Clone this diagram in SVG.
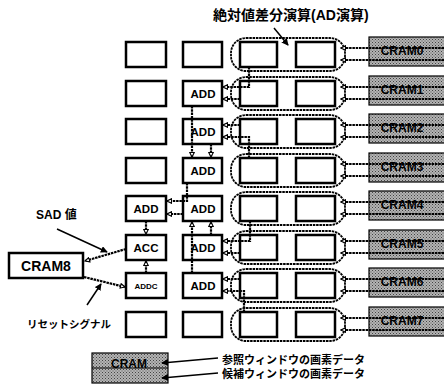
<svg xmlns="http://www.w3.org/2000/svg" width="444" height="387" viewBox="0 0 444 387">
<style>
.bx{fill:#fff;stroke:#000;stroke-width:2.5}
.cr{fill:url(#stip);stroke:#000;stroke-width:1.2}
.pill{fill:none;stroke:#000;stroke-width:1.8;stroke-dasharray:2.5 0.8}
.dl{fill:none;stroke:#000;stroke-width:2.2;stroke-dasharray:2.5 0.8;marker-end:url(#ah)}
.ptr{fill:none;stroke:#000;stroke-width:1.5;marker-end:url(#ahf)}
.t{font-family:"Liberation Sans","Noto Sans CJK JP",sans-serif;font-weight:bold;fill:#000;text-anchor:middle}
.j{font-family:"Liberation Sans","Noto Sans CJK JP",sans-serif;font-weight:bold;fill:#000}
</style>
<defs>
<pattern id="stip" width="3" height="3" patternUnits="userSpaceOnUse"><rect width="3" height="3" fill="#b4b4b4"/><rect width="1" height="1" fill="#444"/><rect x="1.5" y="1.5" width="1" height="1" fill="#555"/></pattern>
<marker id="ah" viewBox="0 0 8 8" refX="7" refY="4" markerWidth="6" markerHeight="6" markerUnits="userSpaceOnUse" orient="auto"><path d="M1,1 L7,4 L1,7 z" fill="#fff" stroke="#000" stroke-width="1.5"/></marker>
<marker id="ahf" viewBox="0 0 8 8" refX="7" refY="4" markerWidth="7" markerHeight="7" markerUnits="userSpaceOnUse" orient="auto"><path d="M0,0 L8,4 L0,8 z" fill="#000"/></marker>
</defs>
<rect width="444" height="387" fill="#fff"/>

<text class="j" x="213" y="20" font-size="14">絶対値差分演算(AD演算)</text>
<text class="j" x="36" y="219" font-size="12">SAD 値</text>
<text class="j" x="27" y="328" font-size="10.5">リセットシグナル</text>
<text class="j" x="222" y="364" font-size="11">参照ウィンドウの画素データ</text>
<text class="j" x="222" y="378" font-size="11">候補ウィンドウの画素データ</text>

<g id="pills">
<rect class="pill" x="231" y="38" width="114" height="33" rx="15"/>
<rect class="pill" x="231" y="77" width="114" height="33" rx="15"/>
<rect class="pill" x="231" y="115" width="114" height="33" rx="15"/>
<rect class="pill" x="231" y="154" width="114" height="33" rx="15"/>
<rect class="pill" x="231" y="192" width="114" height="33" rx="15"/>
<rect class="pill" x="231" y="231" width="114" height="33" rx="15"/>
<rect class="pill" x="231" y="269" width="114" height="33" rx="15"/>
<rect class="pill" x="231" y="308" width="114" height="33" rx="15"/>
</g>

<g id="colA">
<g id="a0"><rect class="bx" x="126" y="42" width="40" height="25"/></g>
<g id="a1"><rect class="bx" x="126" y="81" width="40" height="25"/></g>
<g id="a2"><rect class="bx" x="126" y="119" width="40" height="25"/></g>
<g id="a3"><rect class="bx" x="126" y="158" width="40" height="25"/></g>
<g id="a4"><rect class="bx" x="126" y="196" width="40" height="25"/><text class="t" x="146" y="213" font-size="11.5">ADD</text></g>
<g id="acc"><rect class="bx" x="126" y="235" width="40" height="25"/><text class="t" x="146" y="252" font-size="11.5">ACC</text></g>
<g id="addc"><rect class="bx" x="126" y="273" width="40" height="25"/><text class="t" x="146" y="289" font-size="8">ADDC</text></g>
<g id="a7"><rect class="bx" x="126" y="312" width="40" height="25"/></g>
</g>

<g id="colB">
<g id="b0"><rect class="bx" x="183" y="42" width="39" height="25"/></g>
<g id="b1"><rect class="bx" x="183" y="81" width="39" height="25"/><text class="t" x="203" y="98" font-size="11.5">ADD</text></g>
<g id="b2"><rect class="bx" x="183" y="119" width="39" height="25"/><text class="t" x="203" y="136" font-size="11.5">ADD</text></g>
<g id="b3"><rect class="bx" x="183" y="158" width="39" height="25"/><text class="t" x="203" y="175" font-size="11.5">ADD</text></g>
<g id="b4"><rect class="bx" x="183" y="196" width="39" height="25"/><text class="t" x="203" y="213" font-size="11.5">ADD</text></g>
<g id="b5"><rect class="bx" x="183" y="235" width="39" height="25"/><text class="t" x="203" y="252" font-size="11.5">ADD</text></g>
<g id="b6"><rect class="bx" x="183" y="273" width="39" height="25"/><text class="t" x="203" y="290" font-size="11.5">ADD</text></g>
<g id="b7"><rect class="bx" x="183" y="312" width="39" height="25"/></g>
</g>

<g id="colC">
<g id="c0"><rect class="bx" x="240" y="42" width="37" height="25"/></g>
<g id="c1"><rect class="bx" x="240" y="81" width="37" height="25"/></g>
<g id="c2"><rect class="bx" x="240" y="119" width="37" height="25"/></g>
<g id="c3"><rect class="bx" x="240" y="158" width="37" height="25"/></g>
<g id="c4"><rect class="bx" x="240" y="196" width="37" height="25"/></g>
<g id="c5"><rect class="bx" x="240" y="235" width="37" height="25"/></g>
<g id="c6"><rect class="bx" x="240" y="273" width="37" height="25"/></g>
<g id="c7"><rect class="bx" x="240" y="312" width="37" height="25"/></g>
</g>

<g id="colD">
<g id="d0"><rect class="bx" x="296" y="42" width="39" height="25"/></g>
<g id="d1"><rect class="bx" x="296" y="81" width="39" height="25"/></g>
<g id="d2"><rect class="bx" x="296" y="119" width="39" height="25"/></g>
<g id="d3"><rect class="bx" x="296" y="158" width="39" height="25"/></g>
<g id="d4"><rect class="bx" x="296" y="196" width="39" height="25"/></g>
<g id="d5"><rect class="bx" x="296" y="235" width="39" height="25"/></g>
<g id="d6"><rect class="bx" x="296" y="273" width="39" height="25"/></g>
<g id="d7"><rect class="bx" x="296" y="312" width="39" height="25"/></g>
</g>

<g id="crams">
<g id="cram0"><rect class="cr" x="369" y="37" width="80" height="29"/></g>
<g id="cram1"><rect class="cr" x="369" y="76" width="80" height="29"/></g>
<g id="cram2"><rect class="cr" x="369" y="114" width="80" height="29"/></g>
<g id="cram3"><rect class="cr" x="369" y="153" width="80" height="29"/></g>
<g id="cram4"><rect class="cr" x="369" y="191" width="80" height="29"/></g>
<g id="cram5"><rect class="cr" x="369" y="230" width="80" height="29"/></g>
<g id="cram6"><rect class="cr" x="369" y="268" width="80" height="29"/></g>
<g id="cram7"><rect class="cr" x="369" y="307" width="80" height="29"/></g>
</g>

<g id="cram8"><rect class="bx" x="9" y="253" width="74" height="25"/><text class="t" x="46" y="271" font-size="14">CRAM8</text></g>

<g id="legend"><rect class="cr" x="92" y="353" width="76" height="30"/><line x1="92" y1="368" x2="168" y2="368" stroke="#000" stroke-width="1.2"/></g>

<g id="connectors">
<path class="dl" d="M444,48 H341"/><path class="dl" d="M444,60 H341"/>
<path class="dl" d="M444,87 H341"/><path class="dl" d="M444,99 H341"/>
<path class="dl" d="M444,125 H341"/><path class="dl" d="M444,137 H341"/>
<path class="dl" d="M444,164 H341"/><path class="dl" d="M444,176 H341"/>
<path class="dl" d="M444,202 H341"/><path class="dl" d="M444,214 H341"/>
<path class="dl" d="M444,241 H341"/><path class="dl" d="M444,253 H341"/>
<path class="dl" d="M444,279 H341"/><path class="dl" d="M444,291 H341"/>
<path class="dl" d="M444,318 H341"/><path class="dl" d="M444,330 H341"/>

<path class="dl" d="M249,67 V87 H223"/><path class="dl" d="M240,99 H223"/>
<path class="dl" d="M240,125 H223"/><path class="dl" d="M249,158 V137 H223"/>
<path class="dl" d="M250,221 V241 H223"/><path class="dl" d="M240,253 H223"/>
<path class="dl" d="M240,279 H223"/><path class="dl" d="M244,312 V291 H223"/>

<path class="dl" d="M192,106 V157"/><path class="dl" d="M211,144 V157"/>
<path class="dl" d="M187,183 V201 H167"/><path class="dl" d="M183,214 H167"/>
<path class="dl" d="M192,273 V222"/><path class="dl" d="M211,235 V222"/>
<path class="dl" d="M146,221 V234"/><path class="dl" d="M146,273 V261"/>
<path class="dl" d="M126,249 L85,261"/><path class="dl" d="M84,277 L125,287"/>

<path class="ptr" d="M274,28 L288,45" stroke-width="2.5"/>
<path class="ptr" d="M57,229 L107,252"/>
<path class="ptr" d="M87,305 L101,284"/>
<path class="ptr" d="M218,358 L162,363" stroke-width="1.3"/>
<path class="ptr" d="M218,373 L162,378" stroke-width="1.3"/>
</g>

<g id="cramlabels">
<text class="t" x="402" y="55" font-size="12">CRAM0</text>
<text class="t" x="402" y="94" font-size="12">CRAM1</text>
<text class="t" x="402" y="132" font-size="12">CRAM2</text>
<text class="t" x="402" y="171" font-size="12">CRAM3</text>
<text class="t" x="402" y="209" font-size="12">CRAM4</text>
<text class="t" x="402" y="248" font-size="12">CRAM5</text>
<text class="t" x="402" y="286" font-size="12">CRAM6</text>
<text class="t" x="402" y="325" font-size="12">CRAM7</text>
<text class="t" x="129" y="368" font-size="12">CRAM</text>
</g>
</svg>
